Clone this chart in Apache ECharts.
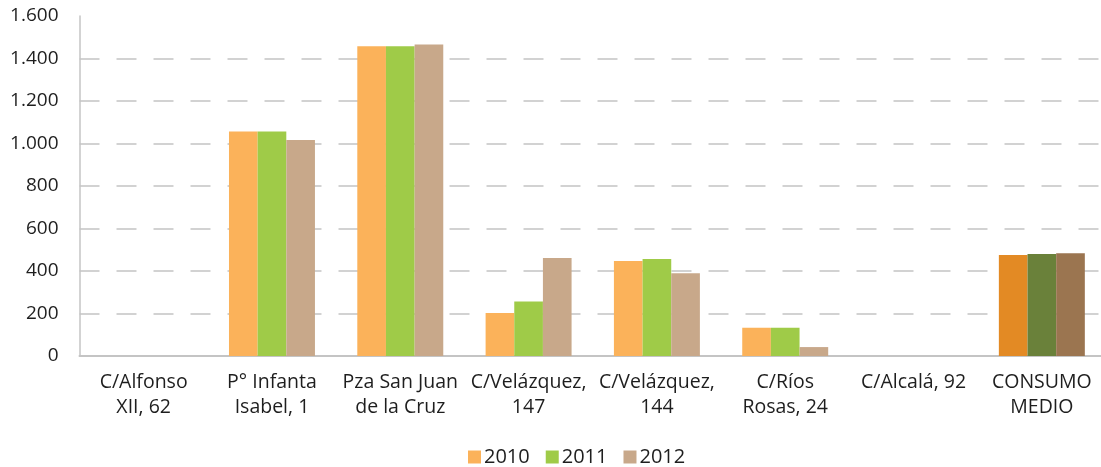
<!DOCTYPE html>
<html>
<head>
<meta charset="utf-8">
<script src="https://cdn.jsdelivr.net/npm/echarts@6/dist/echarts.min.js"></script>
<style>
html,body{margin:0;padding:0;background:#fff;}
#chart{width:1101px;height:467px;}
</style>
</head>
<body>
<div id="chart"></div>
<script>
const categories = ["C/Alfonso\nXII, 62", "P° Infanta\nIsabel, 1", "Pza San Juan\nde la Cruz", "C/Velázquez,\n147", "C/Velázquez,\n144", "C/Ríos\nRosas, 24", "C/Alcalá, 92", "CONSUMO\nMEDIO"];
const seriesNames = ["2010", "2011", "2012"];
const values2010 = [0, 1057, 1458, 202, 447, 133, 0, 475];
const values2011 = [0, 1057, 1458, 257, 456, 133, 0, 480];
const values2012 = [0, 1017, 1466, 461, 390, 42, 0, 484];
const yTicks = [0, 200, 400, 600, 800, 1000, 1200, 1400, 1600];

// ---- styling ----
const colors = ["#FBB25A", "#9FCB48", "#C8A88A"];
const darkColors = ["#E38A24", "#6A813A", "#9B7550"];
const allValues = [values2010, values2011, values2012];

function fmt(v) {
  return String(v).replace(/\B(?=(\d{3})+(?!\d))/g, ".");
}

const font = "'Open Sans', sans-serif";
const chart = echarts.init(document.getElementById('chart'), null, {renderer: 'canvas'});
const gridColors = yTicks.map((t, i) => i === yTicks.length - 1 ? 'rgba(0,0,0,0)' : '#C4C4C4');

chart.setOption({
  animation: false,
  backgroundColor: '#ffffff',
  grid: {left: 79.5, right: -5, top: 16, bottom: 111, containLabel: false, outerBoundsMode: 'none'},
  legend: {
    data: seriesNames,
    left: 463,
    top: 442,
    icon: 'rect',
    itemWidth: 13,
    itemHeight: 13,
    itemGap: 16,
    textStyle: {fontFamily: font, fontSize: 20, color: '#1e1e1e', padding: [0, 0, 0, -2]}
  },
  xAxis: {
    type: 'category',
    data: categories,
    axisLine: {show: true, lineStyle: {color: '#C4C4C4', width: 2}},
    axisTick: {show: false},
    axisLabel: {
      fontFamily: font, fontSize: 19.5, color: '#1e1e1e', lineHeight: 25, margin: 14, interval: 0,
      hideOverlap: false
    }
  },
  yAxis: {
    type: 'value',
    min: yTicks[0],
    max: yTicks[yTicks.length - 1],
    interval: 200,
    axisLine: {show: true, lineStyle: {color: '#C4C4C4', width: 1.5}},
    axisTick: {show: false},
    axisLabel: {fontFamily: font, fontSize: 19, color: '#1e1e1e', margin: 21, formatter: fmt},
    splitLine: {show: true, lineStyle: {color: gridColors, width: 1.5, type: [20, 17]}}
  },
  series: seriesNames.map((name, si) => ({
    name: name,
    type: 'bar',
    barGap: '0%',
    barCategoryGap: '33%',
    itemStyle: {color: colors[si]},
    data: allValues[si].map((v, i) => i === categories.length - 1
      ? {value: v, itemStyle: {color: darkColors[si]}}
      : v)
  }))
});
</script>
</body>
</html>
